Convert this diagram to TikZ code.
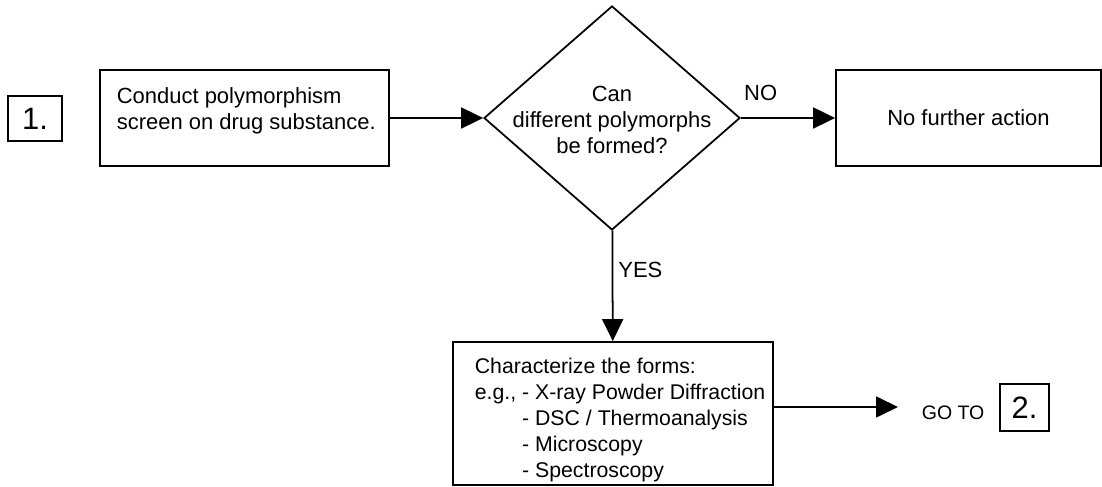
\documentclass[tikz,border=0pt]{standalone}
\usepackage{fontspec}
\setmainfont{Liberation Sans}
\usetikzlibrary{arrows.meta, shapes.geometric}

\begin{document}
\begin{tikzpicture}[>={Triangle[length=0.44cm, width=0.42cm]}, line width=1pt,
	box/.style={draw, line width=1pt, inner sep=0},
	txt/.style={font=\fontsize{12.5}{14.8}\selectfont, inner sep=0},
	big/.style={font=\fontsize{17.6}{20}\selectfont}]
		\useasboundingbox (0,0) rectangle (22.04,-9.74);
		%top
			%left side
			\node [box, big, minimum width=1.08cm, minimum height=0.9cm] (one) at (0.7,-2.37) {1.};
			\node [box, minimum width=5.78cm, minimum height=1.92cm] (screen) at (4.89,-2.36) {};
			\node [txt, align=left, anchor=base west] (screentxt) at (2.32,-2.6) {Conduct polymorphism\\screen on drug substance.};
			%decision
			\node [box, diamond, minimum width=5.12cm, minimum height=4.48cm] (poly) at (12.24,-2.36) {};
			\node [txt, align=center] (polytxt) at (12.24,-2.4) {Can\\different polymorphs\\be formed?};
			%right side
			\node [box, txt, minimum width=5.3cm, minimum height=1.92cm] (noaction) at (19.37,-2.36) {No further action};
			%arrows
			\draw [->] (screen) to (poly);
			\draw [->] (poly) to node [txt, pos=0.21, above=0.32cm] (no) {NO} (noaction);
		%bottom
			\node [box, minimum width=6.4cm, minimum height=2.86cm] (forms) at (12.26,-8.27) {};
			\node [txt, font=\fontsize{12.1}{14.8}\selectfont, align=left, anchor=base west] (formstxt) at (9.48,-9.56) {Characterize the forms:\\e.g., - X-ray Powder Diffraction\\\hphantom{e.g., }- DSC / Thermoanalysis\\\hphantom{e.g., }- Microscopy\\\hphantom{e.g., }- Spectroscopy};
			\node [font=\fontsize{11.1}{13}\selectfont, inner sep=0, anchor=base west] (goto) at (18.42,-8.4) {GO TO};
			\node [box, big, minimum width=0.98cm, minimum height=0.94cm] (two) at (20.49,-8.15) {2.};
			\coordinate (goend) at (17.96,-8.14);
			%arrows
			\draw [->] (poly) to node [txt, pos=0.36, right=0.1cm] (yes) {YES} (forms);
			\draw [->] (forms.east |- goend) to (goend);
		\end{tikzpicture}
\end{document}
